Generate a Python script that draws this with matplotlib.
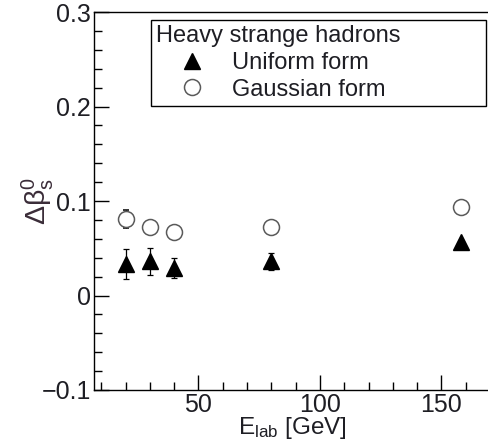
import matplotlib
matplotlib.use("Agg")
import matplotlib.pyplot as plt
from matplotlib.lines import Line2D
from matplotlib.ticker import MultipleLocator, FixedLocator, FixedFormatter

plt.rcParams['font.family'] = ['Liberation Sans', 'DejaVu Sans']
plt.rcParams['mathtext.fontset'] = 'custom'
plt.rcParams['mathtext.rm'] = 'Liberation Sans'
plt.rcParams['mathtext.it'] = 'Liberation Sans:italic'
plt.rcParams['mathtext.sf'] = 'Liberation Sans'

# Beam energies (GeV)
e_lab = [20, 30, 40, 80, 158]

# Uniform form
uniform_val = [0.033, 0.036, 0.029, 0.036, 0.057]
uniform_err = [0.016, 0.014, 0.011, 0.009, 0.0]

# Gaussian form
gauss_val = [0.081, 0.073, 0.067, 0.072, 0.094]
gauss_err = [0.010, 0.0, 0.0, 0.0, 0.0]

y_ticks = [-0.1, 0, 0.1, 0.2, 0.3]
y_tick_labels = ['\u22120.1', '0', '0.1', '0.2', '0.3']
x_ticks = [50, 100, 150]

text_color = '#1e1e24'
circle_edge = '#5a5a5a'

fig = plt.figure(figsize=(4.88, 4.45), dpi=100)
ax = fig.add_axes([0.1926, 0.1236, 0.8115, 0.8494])

ax.errorbar(e_lab, gauss_val, yerr=gauss_err, fmt='o', ms=11.5,
            mfc='white', mec=circle_edge, mew=1.1, ecolor='black',
            elinewidth=0.9, capsize=2.5, capthick=0.9, zorder=3)
ax.errorbar(e_lab, uniform_val, yerr=uniform_err, fmt='^', ms=11.5,
            mfc='black', mec='black', ecolor='black',
            elinewidth=0.9, capsize=2.5, capthick=0.9, zorder=4)

ax.set_xlim(7, 170)
ax.set_ylim(-0.1, 0.3)

ax.xaxis.set_major_locator(FixedLocator(x_ticks))
ax.xaxis.set_minor_locator(MultipleLocator(10))
ax.yaxis.set_major_locator(FixedLocator(y_ticks))
ax.yaxis.set_major_formatter(FixedFormatter(y_tick_labels))
ax.yaxis.set_minor_locator(MultipleLocator(0.02))

ax.tick_params(which='both', direction='in', top=False, right=False,
               labelsize=18, labelcolor=text_color, width=1.0)
ax.tick_params(which='major', length=11, pad=2)
ax.tick_params(which='minor', length=5.5)

for s in ax.spines.values():
    s.set_linewidth(1.0)
ax.spines['right'].set_visible(False)

ax.set_xlabel(r'E$_{\mathrm{lab}}$ [GeV]', fontsize=17.5, color=text_color,
              labelpad=-1)
ax.set_ylabel(r'$\Delta\mathrm{\beta}^0_\mathrm{s}$', fontsize=20.5,
              color='#3a2c38')
ax.yaxis.set_label_coords(-0.096, 0.5)

handles = [
    Line2D([], [], ls='none', marker='^', ms=11.5, mfc='black', mec='black'),
    Line2D([], [], ls='none', marker='o', ms=11.5, mfc='white',
           mec=circle_edge, mew=1.1),
]
labels = ['Uniform form', 'Gaussian form']
x0, y1 = 151 / 488, 1 - 20 / 445
x1, y0 = 486 / 488, 1 - 106 / 445
leg = ax.legend(handles, labels,
                title='Heavy strange hadrons', title_fontsize=17,
                fontsize=17, loc='upper left',
                bbox_to_anchor=(x0, y0, x1 - x0, y1 - y0),
                bbox_transform=fig.transFigure, mode='expand',
                frameon=True, fancybox=False, edgecolor='black',
                framealpha=1, borderpad=0.22, labelspacing=0.2,
                handletextpad=0.2, handlelength=3.0, borderaxespad=0)
leg._legend_box.align = 'left'
leg.get_frame().set_linewidth(1.0)
for t in leg.get_texts():
    t.set_color(text_color)
leg.get_title().set_color(text_color)

fig.savefig('out.png', dpi=100)
